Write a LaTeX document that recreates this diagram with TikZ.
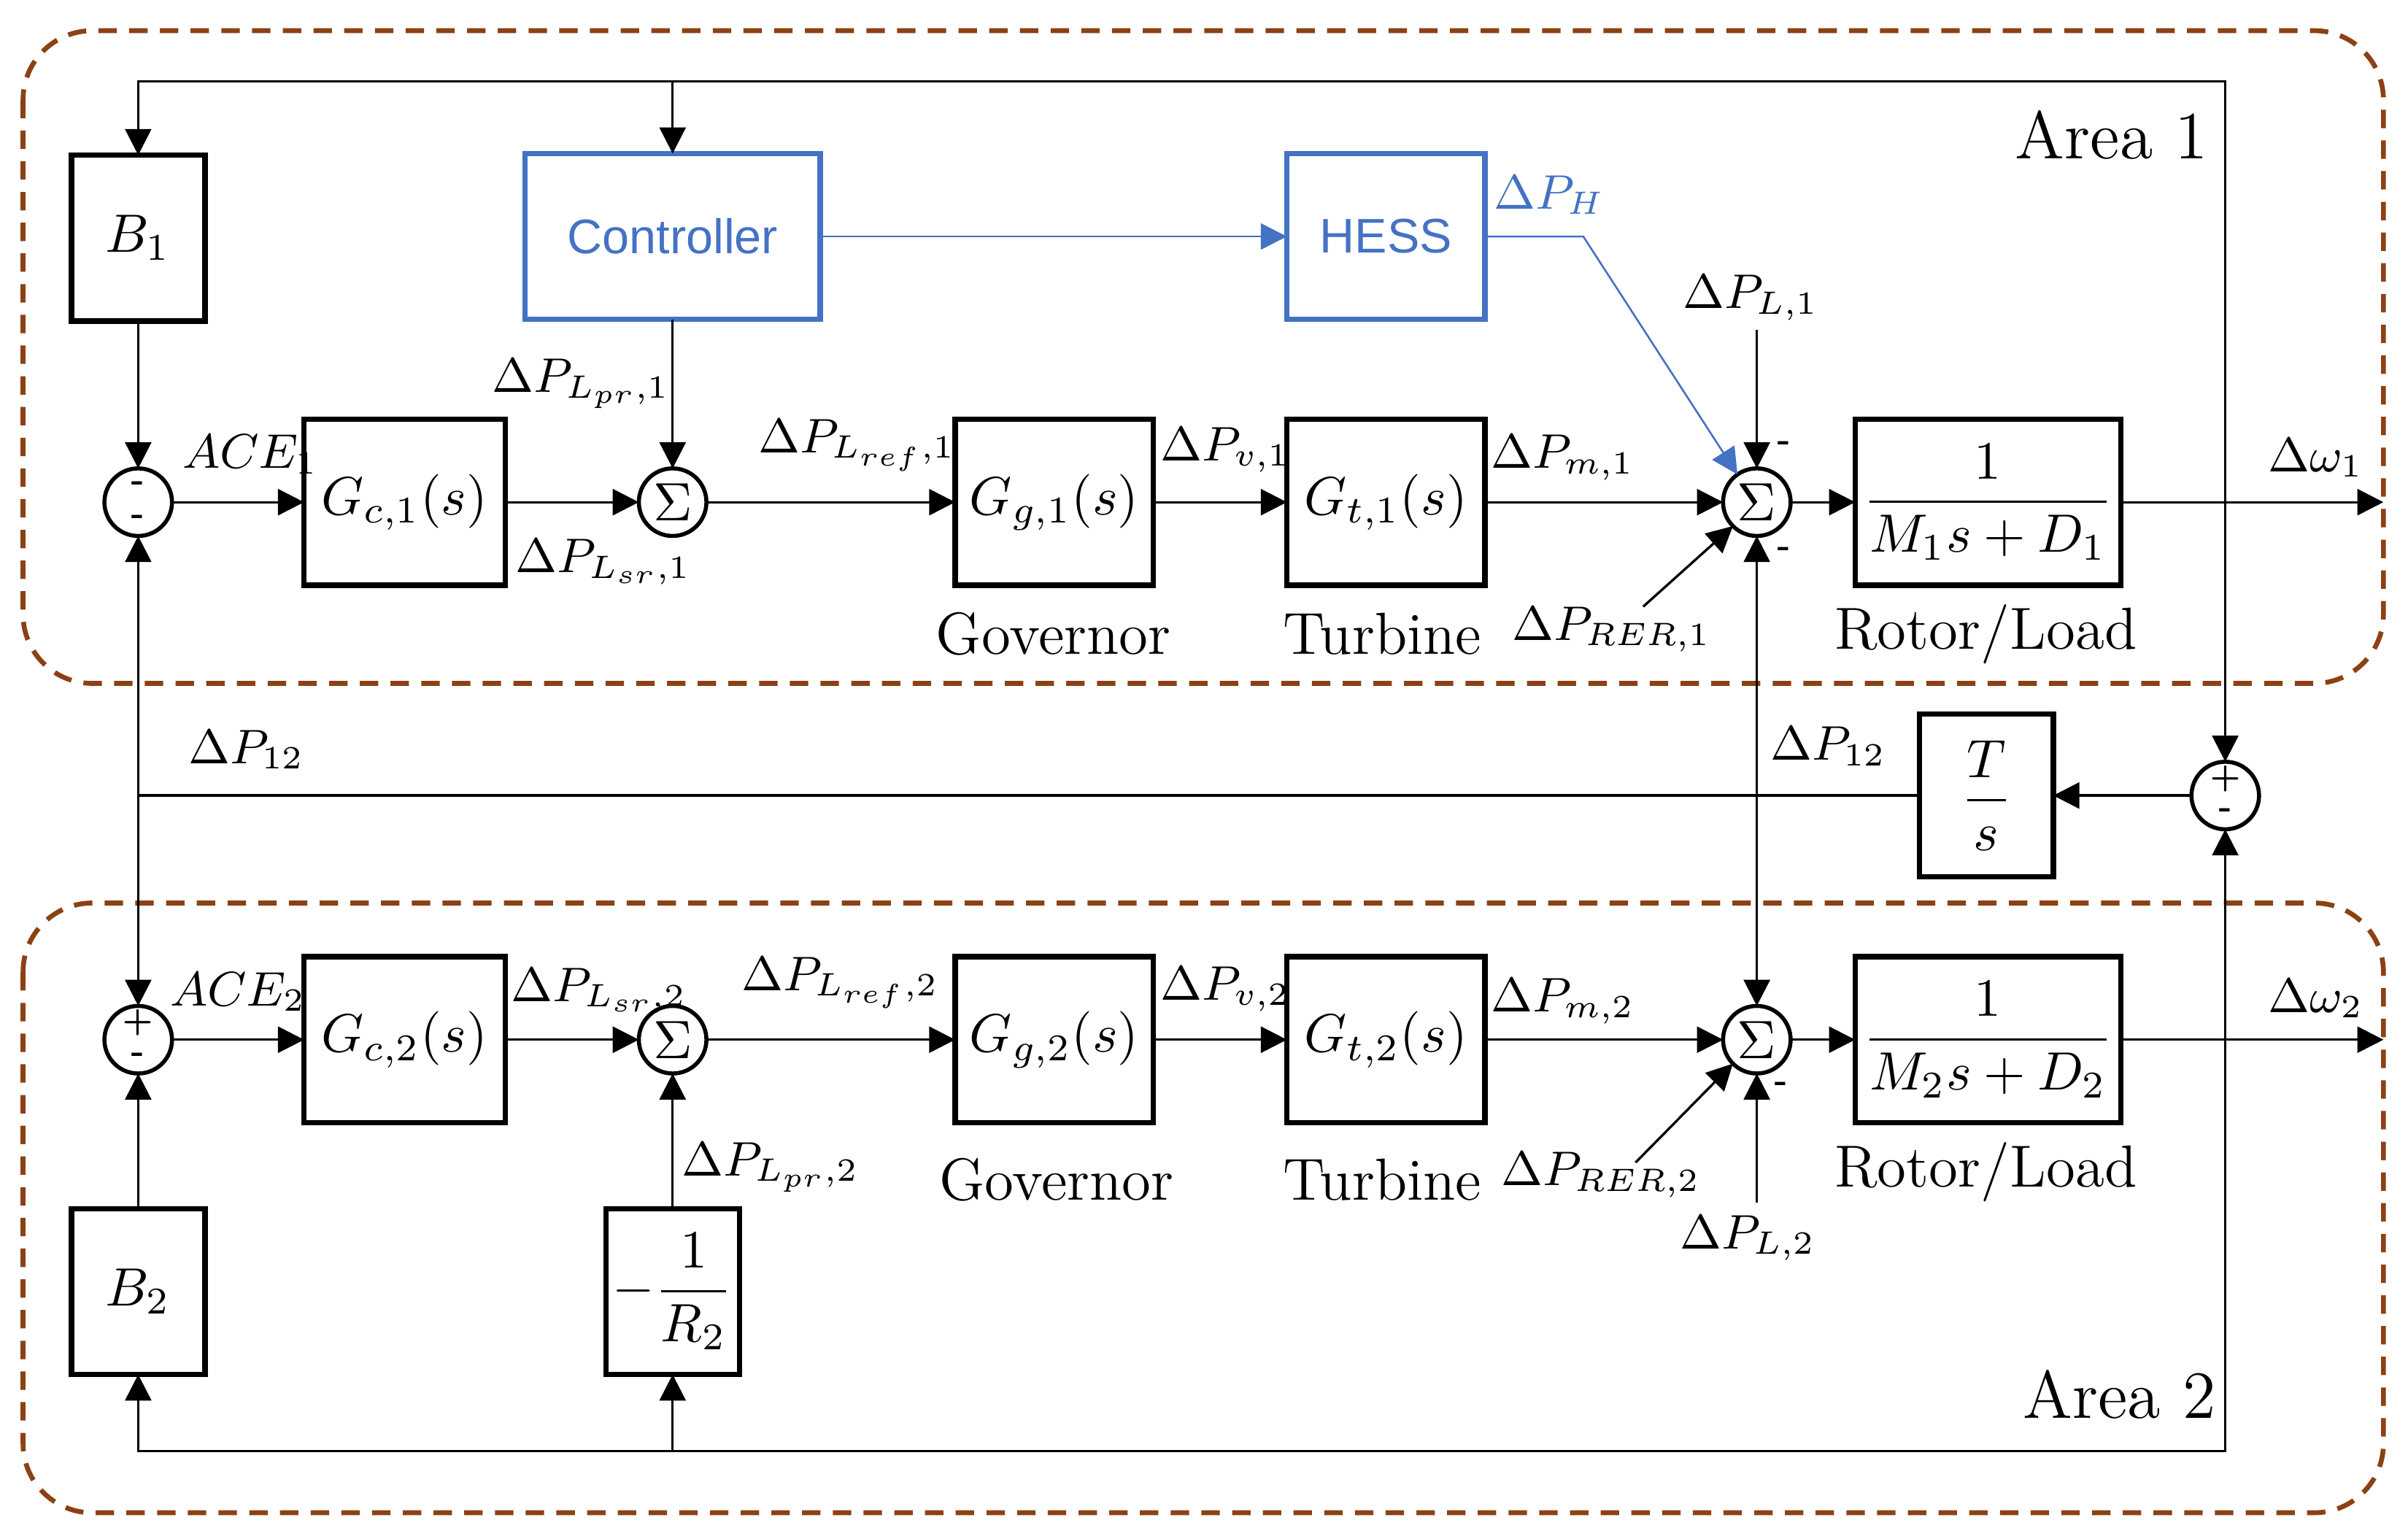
\documentclass[tikz,border=0pt]{standalone}
\usepackage{amsmath}
\usepackage{fontspec}
\newfontfamily\arialfont{Liberation Sans}
\usepackage[svgnames]{xcolor}
\usepackage{tikz}
\usetikzlibrary{positioning}
\usetikzlibrary{arrows.meta}
\definecolor{areabrown}{RGB}{140,65,20}
\definecolor{ctrlblue}{RGB}{68,114,196}
\tikzset{basic/.style={draw,line width=1pt,inner sep=0pt,outer sep=0pt,font=\fontsize{10}{12}\selectfont}}
\tikzset{block/.style={basic,rectangle,minimum width=12.9mm,minimum height=10.8mm}}
\tikzset{gain/.style={basic,rectangle,minimum width=8.7mm,minimum height=10.8mm}}
\tikzset{plant/.style={basic,rectangle,minimum width=17.3mm,minimum height=10.8mm}}
\tikzset{bluebox/.style={basic,rectangle,draw=ctrlblue,text=ctrlblue,font=\arialfont\fontsize{9}{11}\selectfont,minimum height=10.8mm}}
\tikzset{junction/.style={basic,circle,line width=0.75pt,minimum size=4.4mm}}
\tikzset{signs/.style={inner sep=0pt,font=\tiny\bfseries}}
\tikzset{lbl/.style={inner sep=0pt,font=\fontsize{9}{11}\selectfont}}
\tikzset{capt/.style={inner sep=0pt,font=\fontsize{11}{13}\selectfont}}
\tikzset{areatitle/.style={inner sep=0pt,font=\fontsize{12.5}{14}\selectfont}}
\tikzset{area/.style={draw=areabrown,line width=0.9pt,dash pattern=on 1.2mm off 0.8mm,rounded corners=4.5mm}}
\tikzset{blueline/.style={draw=ctrlblue,line width=0.35pt}}

\begin{document}
\begin{tikzpicture}[x=0.1mm,y=-0.1mm,>={Triangle[length=1.7mm,width=1.7mm]},line width=0.45pt]
        \useasboundingbox (0,0) rectangle (1568,1002);
        \draw[area] (15,20) rectangle (1552,445);
        \draw[area] (15,588) rectangle (1552,985);
        \node[areatitle] (a1) at (1375,88) {Area 1};
        \node[areatitle] (a2) at (1380,908) {Area 2};
        % area 1
        \node[junction] (s1a) at (90,327) {};
        \node[block,minimum width=13.1mm,right=8.6mm of s1a] (gc1) {$G_{c,1}(s)$};
        \node[junction,right=8.7mm of gc1] (s1b) {$\Sigma$};
        \node[block,right=16.2mm of s1b] (gg1) {$G_{g,1}(s)$};
        \node[block,right=8.7mm of gg1] (gt1) {$G_{t,1}(s)$};
        \node[junction,right=15.5mm of gt1] (s1c) {$\Sigma$};
        \node[plant,right=4.2mm of s1c] (rl1) {$\dfrac{1}{M_1s+D_1}$};
        \node[gain,above=9.6mm of s1a] (b1) {$B_1$};
        \node[bluebox,minimum width=19.2mm,above=9.7mm of s1b] (ctrl) {Controller};
        \node[bluebox,minimum width=12.9mm,right=30.4mm of ctrl] (hess) {HESS};
        \node[signs] (s1at) at ([yshift=1.1mm]s1a) {-};
        \node[signs] (s1ab) at ([yshift=-1.1mm]s1a) {-};
        \node[signs] (s1ct) at ([xshift=1.8mm,yshift=3.7mm]s1c) {-};
        \node[signs] (s1cb) at ([xshift=1.8mm,yshift=-3.2mm]s1c) {-};
        \node[capt] (gov1) at (686,413) {Governor};
        \node[capt] (tur1) at (900,413) {Turbine};
        \node[capt] (rot1) at (1293,413) {Rotor/Load};
        % tie line
        \node[junction] (s12) at (1449,518) {};
        \node[gain,minimum height=10.6mm,left=9mm of s12] (tsb) {$\dfrac{T}{s}$};
        \node[signs] (s12t) at ([yshift=1.1mm]s12) {+};
        \node[signs] (s12b) at ([yshift=-1.1mm]s12) {-};
        % area 2
        \node[junction] (s2a) at (90,677) {};
        \node[block,minimum width=13.1mm,right=8.6mm of s2a] (gc2) {$G_{c,2}(s)$};
        \node[junction,right=8.7mm of gc2] (s2b) {$\Sigma$};
        \node[block,right=16.2mm of s2b] (gg2) {$G_{g,2}(s)$};
        \node[block,right=8.7mm of gg2] (gt2) {$G_{t,2}(s)$};
        \node[junction,right=15.5mm of gt2] (s2c) {$\Sigma$};
        \node[plant,right=4.2mm of s2c] (rl2) {$\dfrac{1}{M_2s+D_2}$};
        \node[gain,below=8.8mm of s2a] (b2) {$B_2$};
        \node[gain,below=8.8mm of s2b] (r2) {$-\dfrac{1}{R_2}$};
        \node[signs] (s2at) at ([yshift=1.1mm]s2a) {+};
        \node[signs] (s2ab) at ([yshift=-1.1mm]s2a) {-};
        \node[signs] (s2cb) at ([xshift=1.6mm,yshift=-3mm]s2c) {-};
        \node[capt] (gov2) at (688,768) {Governor};
        \node[capt] (tur2) at (900,768) {Turbine};
        \node[capt] (rot2) at (1293,763) {Rotor/Load};
        % signal labels
        \node[lbl,anchor=west] (ace1) at (118,296) {$ACE_1$};
        \node[lbl,anchor=east] (lpr1) at (437,250) {$\Delta P_{L_{pr},1}$};
        \node[lbl,anchor=west] (lsr1) at (335,366) {$\Delta P_{L_{sr},1}$};
        \node[lbl,anchor=west] (lref1) at (493,290) {$\Delta P_{L_{ref},1}$};
        \node[lbl,anchor=west] (pv1) at (755,293) {$\Delta P_{v,1}$};
        \node[lbl,anchor=west] (pm1) at (970,298) {$\Delta P_{m,1}$};
        \node[lbl] (pload1) at (1140,194) {$\Delta P_{L,1}$};
        \node[lbl,anchor=east] (prer1) at (1115,410) {$\Delta P_{RER,1}$};
        \node[lbl,text=ctrlblue,anchor=west] (ph) at (972,127) {$\Delta P_H$};
        \node[lbl] (dw1) at (1508,298) {$\Delta\omega_1$};
        \node[lbl,anchor=west] (p12a) at (122,488) {$\Delta P_{12}$};
        \node[lbl,anchor=west] (p12b) at (1152,486) {$\Delta P_{12}$};
        \node[lbl,anchor=west] (ace2) at (110,646) {$ACE_2$};
        \node[lbl,anchor=west] (lsr2) at (332,645) {$\Delta P_{L_{sr},2}$};
        \node[lbl,anchor=west] (lref2) at (482,640) {$\Delta P_{L_{ref},2}$};
        \node[lbl,anchor=west] (pv2) at (755,644) {$\Delta P_{v,2}$};
        \node[lbl,anchor=west] (pm2) at (970,652) {$\Delta P_{m,2}$};
        \node[lbl,anchor=east] (prer2) at (1108,765) {$\Delta P_{RER,2}$};
        \node[lbl] (pload2) at (1138,806) {$\Delta P_{L,2}$};
        \node[lbl,anchor=west] (lpr2) at (443,760) {$\Delta P_{L_{pr},2}$};
        \node[lbl] (dw2) at (1508,650) {$\Delta\omega_2$};
        % connectors area 1
        \coordinate (out1) at (rl1 -| 1552,0);
        \coordinate (pl1) at (s1c |- 0,215);
        \coordinate (rer1) at (1070,395);
        \coordinate (hbend) at ([xshift=6.4mm]hess.east);
            \path[draw,->] (s1a) -- (gc1);
            \path[draw,->] (gc1) -- (s1b);
            \path[draw,->] (s1b) -- (gg1);
            \path[draw,->] (gg1) -- (gt1);
            \path[draw,->] (gt1) -- (s1c);
            \path[draw,->] (s1c) -- (rl1);
            \path[draw,->] (rl1) -- (out1);
            \path[draw,->] (b1) -- (s1a);
            \path[draw,->] (ctrl) -- (s1b);
            \path[draw,->] (pl1) -- (s1c);
            \path[draw,->] (rer1) -- (s1c.225);
            \path[blueline,->] (ctrl) -- (hess);
            \path[blueline,->] (hess.east) -- (hbend) -- (s1c.125);
        % feedback and tie line
        \coordinate (w1) at (s12 |- rl1);
        \coordinate (tr) at (s12 |- 0,53);
        \coordinate (tc) at (ctrl |- tr);
        \coordinate (w2) at (s12 |- rl2);
        \coordinate (br) at (s12 |- 0,945);
        \coordinate (bc) at (r2 |- br);
        \coordinate (tie1) at (s1a |- s12);
        \coordinate (tie2) at (s1c |- s12);
            \path[draw,->] (w1) -- (tr) -| (b1);
            \path[draw,->] (tc) -- (ctrl);
            \path[draw,->] (w1) -- (s12);
            \path[draw,->] (w2) -- (br) -| (b2);
            \path[draw,->] (bc) -- (r2);
            \path[draw,->] (w2) -- (s12);
            \path[draw,->] (s12) -- (tsb);
            \path[draw] (tsb) -- (tie1);
            \path[draw,->] (tie1) -- (s1a);
            \path[draw,->] (tie1) -- (s2a);
            \path[draw,->] (tie2) -- (s1c);
            \path[draw,->] (tie2) -- (s2c);
        % connectors area 2
        \coordinate (out2) at (rl2 -| 1552,0);
        \coordinate (pl2) at (s2c |- 0,783);
        \coordinate (rer2) at (1065,757);
            \path[draw,->] (s2a) -- (gc2);
            \path[draw,->] (gc2) -- (s2b);
            \path[draw,->] (s2b) -- (gg2);
            \path[draw,->] (gg2) -- (gt2);
            \path[draw,->] (gt2) -- (s2c);
            \path[draw,->] (s2c) -- (rl2);
            \path[draw,->] (rl2) -- (out2);
            \path[draw,->] (b2) -- (s2a);
            \path[draw,->] (r2) -- (s2b);
            \path[draw,->] (pl2) -- (s2c);
            \path[draw,->] (rer2) -- (s2c.225);
    \end{tikzpicture}
\end{document}
